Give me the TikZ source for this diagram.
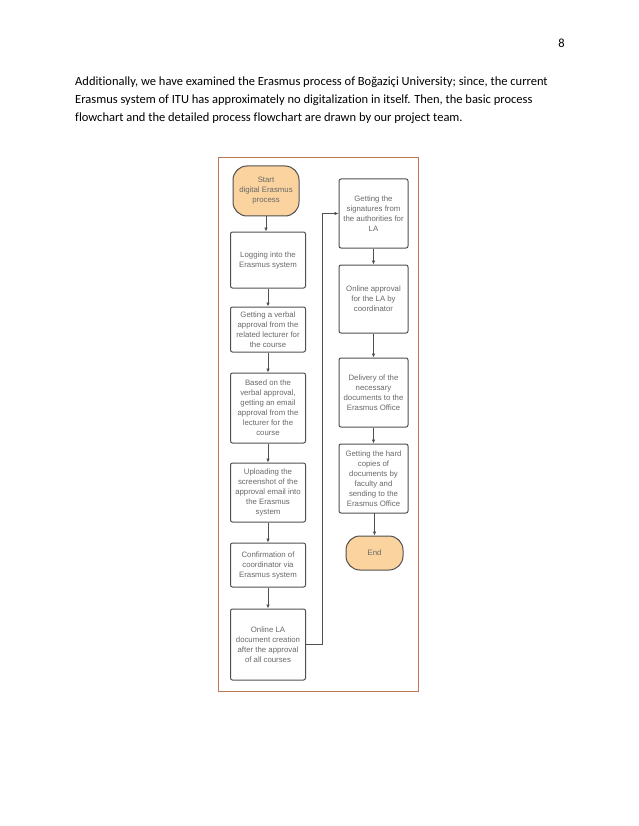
\documentclass[tikz,border=0pt]{standalone}
\usepackage{fontspec}
\setmainfont{Carlito}[Ligatures=NoCommon]
\newfontfamily\chartfont{Liberation Sans}
\usepackage{xcolor}
\usepackage{tikz}
\usetikzlibrary{arrows.meta}
\usetikzlibrary{calc}
\definecolor{framebrown}{RGB}{190,118,84}
\definecolor{termfill}{RGB}{250,211,158}
\definecolor{boxline}{RGB}{80,80,80}
\definecolor{boxtext}{RGB}{105,105,105}
\tikzset{
	stepbox/.style={draw=boxline, line width=1pt, rounded corners=2pt, fill=white,
		align=center, text=boxtext, inner sep=0pt,
		font=\chartfont\fontsize{7.8}{10}\selectfont},
	leftbox/.style={stepbox, minimum width=75pt},
	rightbox/.style={stepbox, minimum width=69pt, minimum height=69pt},
	termbox/.style={stepbox, fill=termfill, rounded corners=14pt},
	flow/.style={-{Latex[length=4pt,width=3.6pt]}, draw=boxline, line width=0.8pt},
	textline/.style={anchor=base west, inner sep=0pt, font=\fontsize{12.5}{14}\selectfont}
}

\begin{document}
\begin{tikzpicture}[x=1pt, y=-1pt]

	\useasboundingbox[fill=white] (0,0) rectangle (638,826);

	% page number and paragraph
	\node[anchor=base east, inner sep=0pt, font=\fontsize{12.5}{14}\selectfont] (pagenum) at (565,48) {8};
	\node[textline] (lineone) at (75,85.3) {Additionally, we have examined the Erasmus process of Boğaziçi University; since, the current};
	\node[textline] (linetwo) at (75,103.6) {Erasmus system of ITU has approximately no digitalization in itself. Then, the basic process};
	\node[textline] (linethree) at (75,121.9) {flowchart and the detailed process flowchart are drawn by our project team.};

	% frame of the chart
	\draw[framebrown, line width=0.9pt] (218,157) rectangle (418,691);

	% left column
	\node[termbox, minimum width=66pt, minimum height=50pt] (start) at (266,191) {Start\\digital Erasmus\\process};
	\node[leftbox, minimum height=56pt] (login) at (268,260) {Logging into the\\Erasmus system};
	\node[leftbox, minimum height=45pt] (verbal) at (268,329.5) {Getting a verbal\\approval from the\\related lecturer for\\the course};
	\node[leftbox, minimum height=70pt] (email) at (268,408) {Based on the\\verbal approval,\\getting an email\\approval from the\\lecturer for the\\course};
	\node[leftbox, minimum height=59pt] (upload) at (268,492.5) {Uploading the\\screenshot of the\\approval email into\\the Erasmus\\system};
	\node[leftbox, minimum height=44pt] (confirm) at (268,565) {Confirmation of\\coordinator via\\Erasmus system};
	\node[leftbox, minimum height=71pt] (ladoc) at (268,644.5) {Online LA\\document creation\\after the approval\\of all courses};

	% right column
	\node[rightbox] (sign) at (373.5,213.5) {Getting the\\signatures from\\the authorities for\\LA};
	\node[rightbox, minimum height=68pt] (approve) at (373.5,299) {Online approval\\for the LA by\\coordinator};
	\node[rightbox] (deliver) at (373.5,392.5) {Delivery of the\\necessary\\documents to the\\Erasmus Office};
	\node[rightbox] (hardcopy) at (373.5,478.5) {Getting the hard\\copies of\\documents by\\faculty and\\sending to the\\Erasmus Office};
	\node[termbox, minimum width=57pt, minimum height=34pt] (end) at (374.5,553) {End};

	\draw[flow] (start.south) -- (start.south |- login.north);
	\draw[flow] (login) -- (verbal);
	\draw[flow] (verbal) -- (email);
	\draw[flow] (email) -- (upload);
	\draw[flow] (upload) -- (confirm);
	\draw[flow] (confirm) -- (ladoc);
	\draw[flow] (ladoc.east) -- ++(16,0) |- (sign.west);
	\draw[flow] (sign) -- (approve);
	\draw[flow] (approve) -- (deliver);
	\draw[flow] (deliver) -- (hardcopy);
	\draw[flow] (hardcopy.south) -- (hardcopy.south -| end.north) -- (end.north);

\end{tikzpicture}
\end{document}
